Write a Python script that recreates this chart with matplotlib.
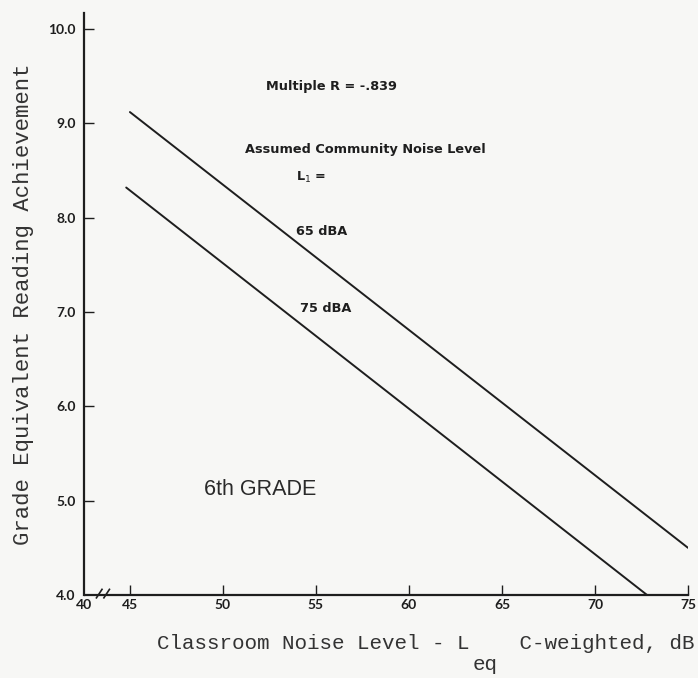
import matplotlib.pyplot as plt

# regression lines for two community noise levels
x_65 = [45.0, 75.0]
y_65 = [9.12, 4.50]
x_75 = [44.8, 72.8]
y_75 = [8.32, 4.00]

x_ticks = [42.53, 45, 50, 55, 60, 65, 70, 75]
x_labels = ["40", "45", "50", "55", "60", "65", "70", "75"]
y_ticks = [4, 5, 6, 7, 8, 9, 10]
y_labels = ["4.0", "5.0", "6.0", "7.0", "8.0", "9.0", "10.0"]

bg = "#f7f7f5"
ink = "#1e1e1e"

fig = plt.figure(figsize=(6.98, 6.78), dpi=100, facecolor=bg)
ax = fig.add_axes([0.1203, 0.1224, 0.8654, 0.8584], facecolor=bg)

ax.plot(x_65, y_65, color=ink, lw=1.4, solid_capstyle="round")
ax.plot(x_75, y_75, color=ink, lw=1.4, solid_capstyle="round")

ax.set_xlim(42.53, 75)
ax.set_ylim(4, 10.17)

for s in ["top", "right"]:
    ax.spines[s].set_visible(False)
for s in ["left", "bottom"]:
    ax.spines[s].set_linewidth(1.6)
    ax.spines[s].set_color(ink)
ax.spines["bottom"].set_bounds(43.4, 75)

# broken axis between 40 and 45
ax.plot([42.53, 43.35], [4, 4], color=ink, lw=1.6, clip_on=False, solid_capstyle="butt")
ax.plot([43.2, 43.5], [3.97, 4.06], color=ink, lw=1.2, clip_on=False)
ax.plot([43.6, 43.9], [3.97, 4.06], color=ink, lw=1.2, clip_on=False)

tick_font = dict(family="Lato", weight="bold", size=10, color=ink)
ax.set_xticks(x_ticks)
ax.set_xticklabels(x_labels, **tick_font)
ax.set_yticks(y_ticks)
ax.set_yticklabels(y_labels, **tick_font)
ax.tick_params(axis="both", direction="in", length=7, width=1.0, color=ink)
ax.tick_params(axis="x", pad=3)
ax.tick_params(axis="y", pad=6)
ax.xaxis.get_major_ticks()[0].tick1line.set_visible(False)
ax.yaxis.get_major_ticks()[0].tick1line.set_visible(False)

mono = dict(family="Liberation Mono", size=15, color="#333333")
ax.set_ylabel("Grade Equivalent Reading Achievement", labelpad=10,
              family="Liberation Mono", size=16, color="#333333")
fig.text(0.61, 0.043, "Classroom Noise Level - L    C-weighted, dB",
         ha="center", va="baseline", **mono)
fig.text(0.695, 0.012, "eq", ha="center", va="baseline", **mono)

note = dict(family="DejaVu Sans", weight="bold", size=9.3, color=ink)
ax.text(55.86, 9.39, "Multiple R = -.839", ha="center", va="center", **note)
ax.text(57.64, 8.72, "Assumed Community Noise Level", ha="center", va="center", **note)
ax.text(54.73, 8.43, "L$_1$ =", ha="center", va="center", **note)
ax.text(55.33, 7.85, "65 dBA", ha="center", va="center", **note)
ax.text(55.54, 7.04, "75 dBA", ha="center", va="center", **note)

ax.text(51.99, 5.12, "6th GRADE", ha="center", va="center",
        family="Liberation Sans", size=15.5, color="#2a2a2a")

fig.savefig("out.png", dpi=100, facecolor=bg)
